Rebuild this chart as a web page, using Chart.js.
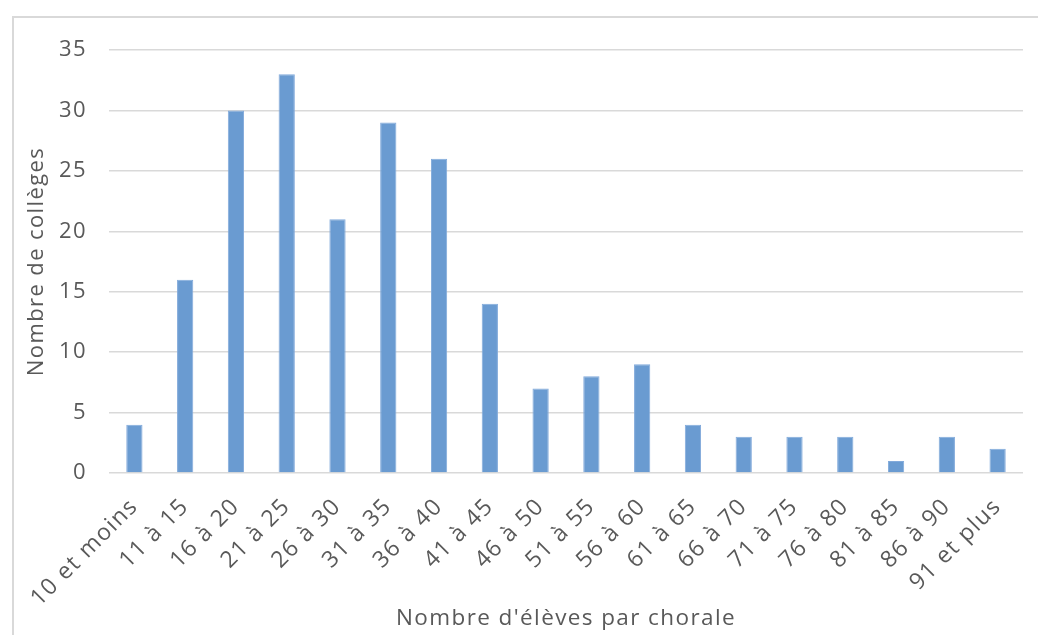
<!DOCTYPE html>
<html><head><meta charset="utf-8">
<script src="https://cdn.jsdelivr.net/npm/chart.js@4"></script>
<style>
html,body{margin:0;padding:0;background:#fff;}
#wrap{position:relative;width:1038px;height:635px;overflow:hidden;}
#frame{position:absolute;left:12px;top:16px;width:1100px;height:700px;border-left:2px solid #d9d9d9;border-top:2px solid #d9d9d9;box-sizing:border-box;}
canvas{position:absolute;left:0;top:0;}
</style></head>
<body><div id="wrap"><div id="frame"></div><canvas id="c" width="1038" height="635"></canvas></div>
<script>
const categories = ["10 et moins","11 à 15","16 à 20","21 à 25","26 à 30","31 à 35","36 à 40","41 à 45","46 à 50","51 à 55","56 à 60","61 à 65","66 à 70","71 à 75","76 à 80","81 à 85","86 à 90","91 et plus"];
const colleges = [4,16,30,33,21,29,26,14,7,8,9,4,3,3,3,1,3,2];
const yTitle = "Nombre de collèges";
const xTitle = "Nombre d'élèves par chorale";
const FONT = "'Open Sans', sans-serif";
const TXT = '#595959';
const spacing = {
  id: 'spacing',
  beforeLayout(chart) { chart.ctx.letterSpacing = '1.4px'; },
  beforeDraw(chart) { chart.ctx.letterSpacing = '1.4px'; }
};
new Chart(document.getElementById('c'), {
  type: 'bar',
  data: { labels: categories, datasets: [{ data: colleges, backgroundColor: '#6a9bd1', borderColor: '#82aadb', borderWidth: 1, barPercentage: 0.64, categoryPercentage: 0.5 }] },
  plugins: [spacing],
  options: {
    responsive: false, animation: false,
    layout: { padding: { left: 0, right: 15, top: 50, bottom: 0 } },
    plugins: { legend: { display: false }, tooltip: { enabled: false } },
    scales: {
      x: {
        grid: { display: false, drawTicks: false },
        border: { display: false },
        ticks: { color: TXT, font: { family: FONT, size: 23 }, minRotation: 45, maxRotation: 45, padding: 20, autoSkip: false },
        title: { display: true, text: xTitle, color: TXT, font: { family: FONT, size: 22.5 }, padding: { top: 0, bottom: 3 } },
        afterFit: s => { s.height = 162; }
      },
      y: {
        min: 0, max: 35,
        grid: { color: '#d9d9d9', lineWidth: 1.5, drawTicks: false },
        border: { display: false },
        ticks: { stepSize: 5, color: TXT, font: { family: FONT, size: 22 }, padding: 22 },
        title: { display: true, text: yTitle, color: TXT, font: { family: FONT, size: 22 }, padding: { top: 24, bottom: 0 } },
        afterFit: s => { s.width = 109; }
      }
    }
  }
});
</script></body></html>
